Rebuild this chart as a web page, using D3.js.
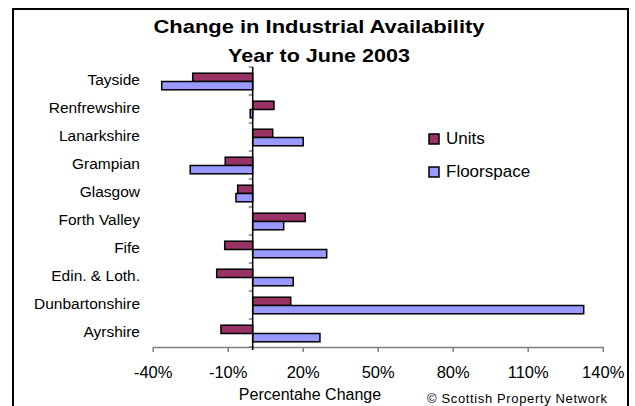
<!DOCTYPE html>
<html>
<head>
<meta charset="utf-8">
<script src="https://cdn.jsdelivr.net/npm/d3@7"></script>
<style>
  body { margin: 0; background: #fff; }
  text { font-family: "Liberation Sans", Arial, sans-serif; }
</style>
</head>
<body>
<div id="chart"></div>
<script>
// regions, top to bottom as in the chart
var regions = ["Tayside", "Renfrewshire", "Lanarkshire", "Grampian", "Glasgow",
               "Forth Valley", "Fife", "Edin. & Loth.", "Dunbartonshire", "Ayrshire"];
var seriesNames = ["Units", "Floorspace"];
// percentage change, year to June 2003
var units      = [-24, 8.5, 8, -11, -6, 21, -11.2, -14.4, 15.2, -12.7];
var floorspace = [-36.4, -1, 20.2, -25, -6.7, 12.4, 29.6, 16.2, 132.4, 26.9];
var xTicks = [-40, -10, 20, 50, 80, 110, 140];

var colors = { "Units": "#993366", "Floorspace": "#9999ff" };

var width = 635, height = 406;

var svg = d3.select("#chart").append("svg")
    .attr("width", width)
    .attr("height", height);

// chart frame (bottom edge falls outside the picture)
svg.append("rect")
    .attr("x", 13).attr("y", 9)
    .attr("width", 615).attr("height", 420)
    .attr("fill", "none")
    .attr("stroke", "#000")
    .attr("stroke-width", 2);

// title, glyphs stretched a little like the original
svg.selectAll(".title")
    .data([{ t: "Change in Industrial Availability", w: 331 },
           { t: "Year to June 2003", w: 182 }])
    .enter().append("text")
    .attr("x", 319)
    .attr("y", function (d, i) { return 33 + i * 29; })
    .attr("text-anchor", "middle")
    .attr("textLength", function (d) { return d.w; })
    .attr("lengthAdjust", "spacingAndGlyphs")
    .style("font-size", "19px")
    .style("font-weight", "bold")
    .text(function (d) { return d.t; });

var x = d3.scaleLinear().domain([-40, 140]).range([152.7, 602.7]);
var y0 = d3.scaleBand().domain(regions).range([67, 347]).padding(0);
var y1 = d3.scaleBand().domain(seriesNames).range([6.2, 22.8]);

var rows = regions.map(function (r, i) {
  return { region: r, values: [
    { name: "Units", v: units[i] },
    { name: "Floorspace", v: floorspace[i] }
  ]};
});

// bars
var groups = svg.selectAll(".row")
    .data(rows)
    .enter().append("g")
    .attr("transform", function (d) { return "translate(0," + y0(d.region) + ")"; });

groups.selectAll("rect")
    .data(function (d) { return d.values; })
    .enter().append("rect")
    .attr("x", function (d) { return x(Math.min(0, d.v)); })
    .attr("y", function (d) { return y1(d.name); })
    .attr("width", function (d) { return Math.abs(x(d.v) - x(0)); })
    .attr("height", y1.bandwidth())
    .attr("fill", function (d) { return colors[d.name]; })
    .attr("stroke", "#000")
    .attr("stroke-width", 1.5);

// x axis
var xAxis = svg.append("g")
    .attr("transform", "translate(0,347)")
    .call(d3.axisBottom(x)
      .tickValues(xTicks)
      .tickFormat(function (d) { return d + "%"; })
      .tickSizeInner(5)
      .tickSizeOuter(0)
      .tickPadding(14));
xAxis.select(".domain").attr("stroke", "#808080").attr("stroke-width", 1.5);
xAxis.selectAll(".tick line").attr("stroke", "#808080").attr("stroke-width", 1.5);
xAxis.selectAll("text")
    .attr("fill", "#000")
    .style("font-size", "16.5px")
    .style("font-family", "'Liberation Sans', Arial, sans-serif");

// y axis at zero, ticks between categories
var tickYs = regions.map(function (r) { return y0(r); }).concat([y0.range()[1]]);
svg.selectAll(".ytick")
    .data(tickYs)
    .enter().append("line")
    .attr("x1", x(0) - 4).attr("x2", x(0))
    .attr("y1", function (d) { return d; })
    .attr("y2", function (d) { return d; })
    .attr("stroke", "#808080")
    .attr("stroke-width", 1.5);
svg.append("line")
    .attr("x1", x(0)).attr("x2", x(0))
    .attr("y1", 67).attr("y2", 350)
    .attr("stroke", "#000")
    .attr("stroke-width", 1.5);

// category labels
svg.selectAll(".cat")
    .data(regions)
    .enter().append("text")
    .attr("x", 140)
    .attr("y", function (d) { return y0(d) + y0.bandwidth() / 2 - 1; })
    .attr("dy", "0.35em")
    .attr("text-anchor", "end")
    .style("font-size", "15.5px")
    .text(function (d) { return d; });

// axis title
svg.append("text")
    .attr("x", 310)
    .attr("y", 400)
    .attr("text-anchor", "middle")
    .style("font-size", "16px")
    .text("Percentahe Change");

// source note
svg.append("text")
    .attr("x", 427)
    .attr("y", 403)
    .attr("textLength", 180)
    .attr("lengthAdjust", "spacing")
    .style("font-size", "13px")
    .text("\u00a9 Scottish Property Network");

// legend
var legend = svg.selectAll(".legend")
    .data(seriesNames)
    .enter().append("g")
    .attr("transform", function (d, i) { return "translate(429," + (134 + i * 33) + ")"; });
legend.append("rect")
    .attr("width", 10).attr("height", 10)
    .attr("fill", function (d) { return colors[d]; })
    .attr("stroke", "#000")
    .attr("stroke-width", 1.5);
legend.append("text")
    .attr("x", 17)
    .attr("y", 10)
    .style("font-size", "17px")
    .text(function (d) { return d; });
</script>
</body>
</html>
